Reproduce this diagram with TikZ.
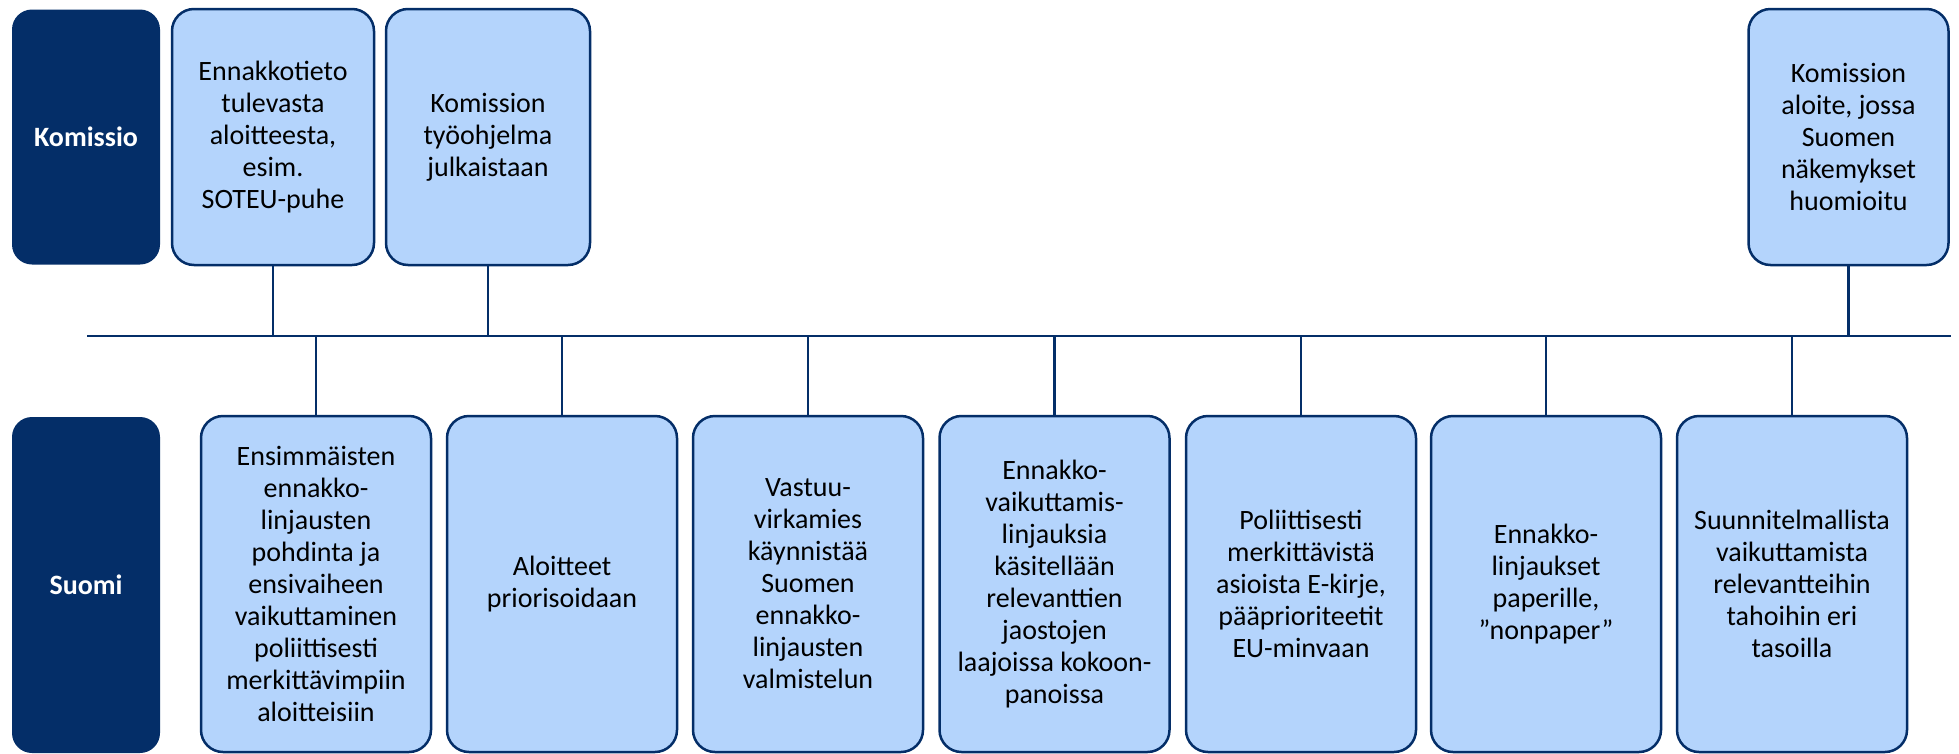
\documentclass[tikz,border=0pt]{standalone}
\usepackage{fontspec}
\setmainfont{Carlito}
\usetikzlibrary{positioning}

\definecolor{tumma}{RGB}{4,46,104}
\definecolor{vaalea}{RGB}{180,212,252}

\tikzset{
	toimija/.style = {draw = none, fill = tumma, text = white, rounded corners = 20pt,
		font = \fontsize{28}{32}\selectfont\bfseries, align = center, inner sep = 0pt},
	vaihe/.style = {draw = tumma, line width = 2.5pt, fill = vaalea, rounded corners = 22pt,
		font = \fontsize{28}{32}\selectfont, align = center, inner sep = 0pt},
	yhteys/.style = {draw = tumma, line width = 2.5pt}
}

\begin{document}
\begin{tikzpicture}[x = 1pt, y = -1pt]
	\useasboundingbox (0,0) rectangle (1959,753);

	% rivien otsikot
	\node[toimija, minimum width = 148pt, minimum height = 255pt] (komissio) at (86,137) {Komissio};
	\node[toimija, minimum width = 148pt, minimum height = 336pt] (suomi) at (86,585) {Suomi};

	% aikajana
	\coordinate (alku) at (87,336);
	\coordinate (loppu) at (1951,336);
	\draw[yhteys] (alku) -- (loppu);

	% komission vaiheet
	\node[vaihe, minimum width = 202pt, minimum height = 256pt] (k1) at (273,137)
		{Ennakkotieto\\tulevasta\\aloitteesta,\\esim.\\SOTEU-puhe};
	\node[vaihe, minimum width = 204pt, minimum height = 256pt] (k2) at (488,137)
		{Komission\\työohjelma\\julkaistaan};
	\node[vaihe, minimum width = 200pt, minimum height = 256pt] (k3) at (1848.5,137)
		{Komission\\aloite, jossa\\Suomen\\näkemykset\\huomioitu};
	\draw[yhteys] (k1) -- (k1 |- alku);
	\draw[yhteys] (k2) -- (k2 |- alku);
	\draw[yhteys] (k3) -- (k3 |- alku);

	% suomen vaiheet
	\node[vaihe, minimum width = 230pt, minimum height = 336pt] (s1) at (316,584)
		{Ensimmäisten\\ennakko-\\linjausten\\pohdinta ja\\ensivaiheen\\vaikuttaminen\\poliittisesti\\merkittävimpiin\\aloitteisiin};
	\node[vaihe, minimum width = 230pt, minimum height = 336pt] (s2) at (562,584)
		{Aloitteet\\priorisoidaan};
	\node[vaihe, minimum width = 230pt, minimum height = 336pt] (s3) at (808,584)
		{Vastuu-\\virkamies\\käynnistää\\Suomen\\ennakko-\\linjausten\\valmistelun};
	\node[vaihe, minimum width = 230pt, minimum height = 336pt] (s4) at (1054.5,584)
		{Ennakko-\\vaikuttamis-\\linjauksia\\käsitellään\\relevanttien\\jaostojen\\laajoissa kokoon-\\panoissa};
	\node[vaihe, minimum width = 230pt, minimum height = 336pt] (s5) at (1301,584)
		{Poliittisesti\\merkittävistä\\asioista E-kirje,\\pääprioriteetit\\EU-minvaan};
	\node[vaihe, minimum width = 230pt, minimum height = 336pt] (s6) at (1546,584)
		{Ennakko-\\linjaukset\\paperille,\\”nonpaper”};
	\node[vaihe, minimum width = 230pt, minimum height = 336pt] (s7) at (1792,584)
		{Suunnitelmallista\\vaikuttamista\\relevantteihin\\tahoihin eri\\tasoilla};
	\draw[yhteys] (s1) -- (s1 |- alku);
	\draw[yhteys] (s2) -- (s2 |- alku);
	\draw[yhteys] (s3) -- (s3 |- alku);
	\draw[yhteys] (s4) -- (s4 |- alku);
	\draw[yhteys] (s5) -- (s5 |- alku);
	\draw[yhteys] (s6) -- (s6 |- alku);
	\draw[yhteys] (s7) -- (s7 |- alku);
\end{tikzpicture}
\end{document}
